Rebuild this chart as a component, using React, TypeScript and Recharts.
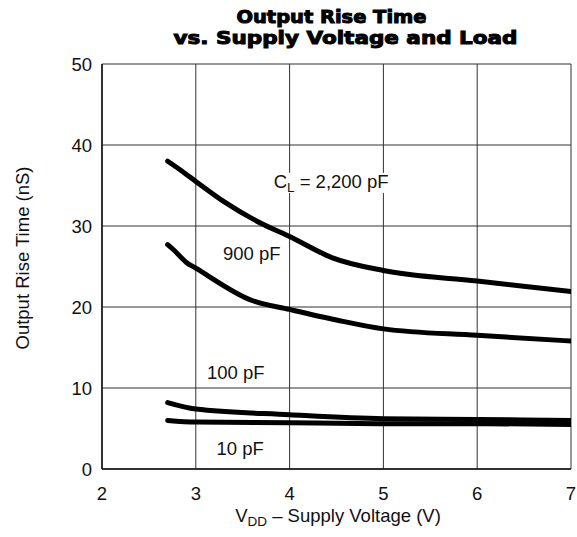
import React from 'react'
import { CartesianGrid, Line, LineChart, ReferenceDot, XAxis, YAxis } from 'recharts'

type Pt = { v: number; t: number }

const xTicks = [2, 3, 4, 5, 6, 7]
const yTicks = [0, 10, 20, 30, 40, 50]

const load2200: Pt[] = [
  { v: 2.7, t: 38 },
  { v: 2.85, t: 36.8 },
  { v: 3.0, t: 35.5 },
  { v: 3.3, t: 33 },
  { v: 3.7, t: 30.3 },
  { v: 4.0, t: 28.7 },
  { v: 4.45, t: 26.1 },
  { v: 5.0, t: 24.5 },
  { v: 6.0, t: 23.2 },
  { v: 7.0, t: 21.9 },
]

const load900: Pt[] = [
  { v: 2.7, t: 27.7 },
  { v: 2.76, t: 27.1 },
  { v: 2.9, t: 25.5 },
  { v: 3.0, t: 24.8 },
  { v: 3.6, t: 20.8 },
  { v: 4.0, t: 19.7 },
  { v: 4.5, t: 18.4 },
  { v: 5.0, t: 17.3 },
  { v: 6.0, t: 16.5 },
  { v: 7.0, t: 15.8 },
]

const load100: Pt[] = [
  { v: 2.7, t: 8.2 },
  { v: 3.0, t: 7.4 },
  { v: 4.0, t: 6.7 },
  { v: 5.0, t: 6.2 },
  { v: 6.0, t: 6.1 },
  { v: 7.0, t: 6.0 },
]

const load10: Pt[] = [
  { v: 2.7, t: 6.0 },
  { v: 3.0, t: 5.8 },
  { v: 4.0, t: 5.7 },
  { v: 5.0, t: 5.6 },
  { v: 6.0, t: 5.6 },
  { v: 7.0, t: 5.5 },
]

const curveLabels = [
  { v: 3.83, t: 34.7, main: 'C', sub: 'L', rest: ' = 2,200 pF', w: 120 },
  { v: 3.29, t: 25.75, main: '900 pF', sub: '', rest: '', w: 58 },
  { v: 3.12, t: 11.15, main: '100 pF', sub: '', rest: '', w: 58 },
  { v: 3.22, t: 1.77, main: '10 pF', sub: '', rest: '', w: 48 },
]

const font = '"Liberation Sans", Arial, Helvetica, sans-serif'
const fs = 18.5

function CurveLabel(props: any) {
  const { cx, cy, lbl } = props
  if (cx == null || cy == null) return null
  return (
    <g>
      <rect x={cx - 2} y={cy - 15} width={lbl.w + 4} height={20} fill="#fff" />
      <text x={cx} y={cy} fontSize={fs} fontFamily={font} fill="#111">
        {lbl.main}
        {lbl.sub ? (
          <tspan fontSize={13.5} dy={4}>
            {lbl.sub}
          </tspan>
        ) : null}
        {lbl.rest ? <tspan dy={lbl.sub ? -4 : 0}>{lbl.rest}</tspan> : null}
      </text>
    </g>
  )
}

export default function App() {
  const series = [load2200, load900, load100, load10]
  const titleFont = '"DejaVu Sans", sans-serif'
  return (
    <div style={{ position: 'absolute', left: 0, top: 0, width: 577, height: 537, background: '#fff' }}>
      <LineChart width={577} height={537} margin={{ top: 64, right: 6, left: 0, bottom: 0 }}>
        <CartesianGrid stroke="#333" strokeWidth={1} horizontalValues={yTicks} verticalValues={xTicks} />
        <XAxis
          type="number"
          dataKey="v"
          domain={[2, 7]}
          ticks={xTicks}
          height={68}
          tickLine={false}
          tickMargin={12}
          axisLine={{ stroke: '#111', strokeWidth: 1.5 }}
          tick={{ fontSize: fs, fill: '#111', fontFamily: font }}
          allowDataOverflow
        />
        <YAxis
          type="number"
          dataKey="t"
          domain={[0, 50]}
          ticks={yTicks}
          width={102}
          tickLine={false}
          tickMargin={4}
          axisLine={{ stroke: '#111', strokeWidth: 1.5 }}
          tick={{ fontSize: fs, fill: '#111', fontFamily: font }}
          allowDataOverflow
        />
        {curveLabels.map((l, i) => (
          <ReferenceDot key={i} x={l.v} y={l.t} r={0} shape={(p: any) => <CurveLabel {...p} lbl={l} />} />
        ))}
        {series.map((d, i) => (
          <Line
            key={i}
            data={d}
            dataKey="t"
            type="monotone"
            stroke="#000"
            strokeWidth={5}
            strokeLinecap="round"
            dot={false}
            isAnimationActive={false}
          />
        ))}
      </LineChart>
      <svg width={577} height={537} style={{ position: 'absolute', left: 0, top: 0, pointerEvents: 'none' }}>
        <text
          x={331.5}
          y={23}
          textAnchor="middle"
          fontSize={17.5}
          fontWeight={700}
          fontFamily={titleFont}
          fill="#000"
          stroke="#000"
          strokeWidth={1}
          textLength={190}
          lengthAdjust="spacingAndGlyphs"
        >
          Output Rise Time
        </text>
        <text
          x={345.5}
          y={43.5}
          textAnchor="middle"
          fontSize={17.5}
          fontWeight={700}
          fontFamily={titleFont}
          fill="#000"
          stroke="#000"
          strokeWidth={1}
          textLength={344}
          lengthAdjust="spacingAndGlyphs"
        >
          vs. Supply Voltage and Load
        </text>
        <text
          x={0}
          y={0}
          transform="translate(29 258) rotate(-90)"
          textAnchor="middle"
          fontSize={fs}
          fontFamily={font}
          fill="#111"
        >
          Output Rise Time (nS)
        </text>
        <text x={338} y={522} textAnchor="middle" fontSize={fs} fontFamily={font} fill="#111">
          V<tspan fontSize={13.5} dy={4}>DD</tspan>
          <tspan dy={-4}> – Supply Voltage (V)</tspan>
        </text>
      </svg>
    </div>
  )
}
